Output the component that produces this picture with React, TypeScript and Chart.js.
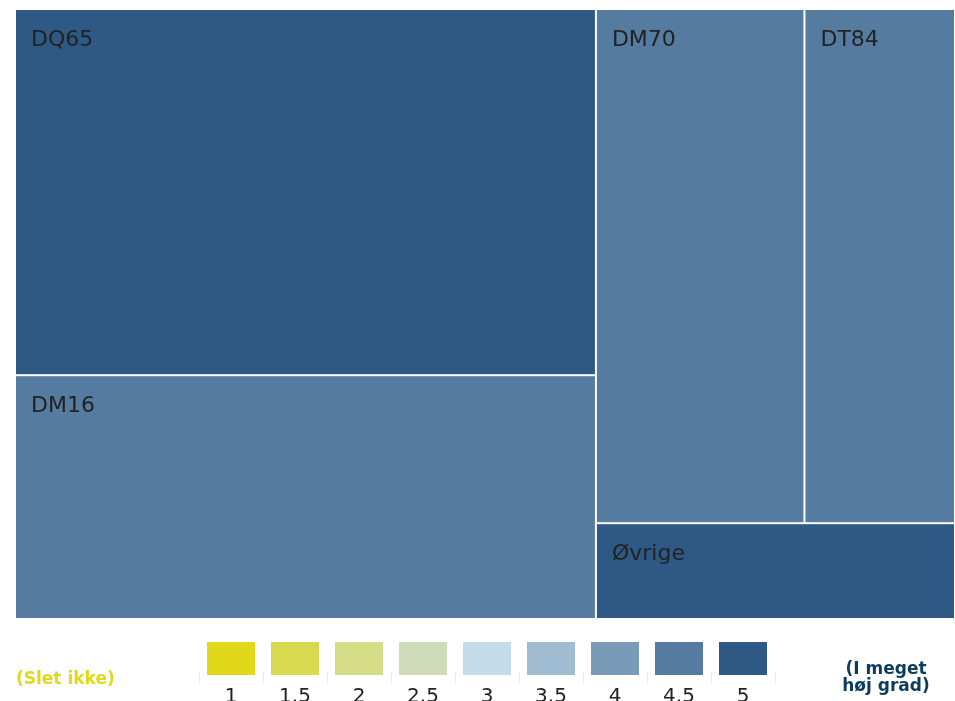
import React, { useEffect, useRef } from "react";
import { Chart, registerables } from "chart.js";

Chart.register(...registerables);

// ---- data ----
const categories = ["DQ65", "DM16", "DM70", "DT84", "Øvrige"];
const sizes = [37.1, 24.7, 18.7, 13.5, 6.0];
const scores = [5, 4.5, 4.5, 4.5, 5];
const legendSteps = [1, 1.5, 2, 2.5, 3, 3.5, 4, 4.5, 5];
const legendLabels = ["1", "1.5", "2", "2.5", "3", "3.5", "4", "4.5", "5"];
const legendColors = [
  "#e2d81a",
  "#d9d94f",
  "#d4dc86",
  "#cfdcba",
  "#c4dcea",
  "#a0bcd3",
  "#7a9bb8",
  "#557ba0",
  "#2e5984",
];
const lowLabel = "(Slet ikke)";
const highLabel = ["(I meget", "høj grad)"];

type R = { i: number; x0: number; y0: number; x1: number; y1: number };

// d3-style squarified treemap
function squarify(values: number[], X0: number, Y0: number, X1: number, Y1: number, ratio: number): R[] {
  const nodes = values.map((v, i) => ({ i, value: v })).sort((a, b) => b.value - a.value);
  const out: R[] = [];
  let x0 = X0, y0 = Y0;
  const x1 = X1, y1 = Y1;
  let value = nodes.reduce((s, n) => s + n.value, 0);
  let i0 = 0, i1 = 0;
  const n = nodes.length;
  while (i0 < n) {
    const dx = x1 - x0, dy = y1 - y0;
    let sumValue = nodes[i1++].value;
    let minValue = sumValue, maxValue = sumValue;
    const alpha = Math.max(dy / dx, dx / dy) / (value * ratio);
    let beta = sumValue * sumValue * alpha;
    let minRatio = Math.max(maxValue / beta, beta / minValue);
    for (; i1 < n; ++i1) {
      const nv = nodes[i1].value;
      sumValue += nv;
      if (nv < minValue) minValue = nv;
      if (nv > maxValue) maxValue = nv;
      beta = sumValue * sumValue * alpha;
      const newRatio = Math.max(maxValue / beta, beta / minValue);
      if (newRatio > minRatio) {
        sumValue -= nv;
        break;
      }
      minRatio = newRatio;
    }
    const row = nodes.slice(i0, i1);
    if (dx < dy) {
      const ny = value ? y0 + (dy * sumValue) / value : y1;
      let x = x0;
      row.forEach((nd) => {
        const w = ((x1 - x0) * nd.value) / sumValue;
        out.push({ i: nd.i, x0: x, y0: y0, x1: x + w, y1: ny });
        x += w;
      });
      y0 = ny;
    } else {
      const nx = value ? x0 + (dx * sumValue) / value : x1;
      let y = y0;
      row.forEach((nd) => {
        const h = ((y1 - y0) * nd.value) / sumValue;
        out.push({ i: nd.i, x0: x0, y0: y, x1: nx, y1: y + h });
        y += h;
      });
      x0 = nx;
    }
    value -= sumValue;
    i0 = i1;
  }
  return out;
}

const FONT = "'DejaVu Sans', Verdana, sans-serif";

const treemapPlugin = {
  id: "treemapDraw",
  afterDatasetsDraw(chart: any) {
    const { ctx, chartArea, scales } = chart;
    const xs = scales.x, ys = scales.y;
    const w = chartArea.right - chartArea.left;
    const h = chartArea.bottom - chartArea.top;
    const rects = squarify(sizes, 0, 0, w, h, 2);
    ctx.save();
    rects.forEach((r) => {
      const px0 = xs.getPixelForValue((r.x0 / w) * 100);
      const px1 = xs.getPixelForValue((r.x1 / w) * 100);
      const py0 = ys.getPixelForValue((r.y0 / h) * 100);
      const py1 = ys.getPixelForValue((r.y1 / h) * 100);
      const ci = legendSteps.indexOf(scores[r.i]);
      ctx.fillStyle = "#ffffff";
      ctx.fillRect(px0, py0, px1 - px0, py1 - py0);
      ctx.fillStyle = legendColors[ci];
      ctx.fillRect(px0 + 1, py0 + 1, px1 - px0 - 2, py1 - py0 - 2);
      ctx.fillStyle = "#222222";
      ctx.font = `22px ${FONT}`;
      ctx.textBaseline = "alphabetic";
      ctx.textAlign = "left";
      ctx.fillText(categories[r.i], px0 + 16, py0 + 37);
    });

    // legend
    const cellStart = 198.5;
    const cellW = 64.1;
    for (let i = 0; i <= legendSteps.length; i++) {
      const lx = Math.round(cellStart + i * cellW) + 0.5;
      ctx.strokeStyle = "#e8e8e8";
      ctx.lineWidth = 1;
      ctx.beginPath();
      ctx.moveTo(lx, 672);
      ctx.lineTo(lx, 683);
      ctx.stroke();
    }
    legendSteps.forEach((s, i) => {
      const bx = Math.round(cellStart + i * cellW + 8);
      ctx.fillStyle = legendColors[i];
      ctx.fillRect(bx, 642, 48, 33);
      ctx.fillStyle = "#222222";
      ctx.font = `20px ${FONT}`;
      ctx.textAlign = "center";
      ctx.textBaseline = "alphabetic";
      ctx.fillText(legendLabels[i], bx + 24, 702);
    });
    ctx.font = `bold 17px ${FONT}`;
    ctx.textAlign = "left";
    ctx.fillStyle = legendColors[0];
    ctx.fillText(lowLabel, 16, 684);
    ctx.textAlign = "center";
    ctx.fillStyle = "#0e3c5e";
    ctx.fillText(highLabel[0], 886, 674);
    ctx.fillText(highLabel[1], 886, 691);
    ctx.restore();
  },
};

export default function App() {
  const ref = useRef<HTMLCanvasElement | null>(null);
  useEffect(() => {
    document.body.style.margin = "0";
    if (!ref.current) return;
    const chart = new Chart(ref.current, {
      type: "scatter",
      data: {
        datasets: [
          {
            label: "size",
            data: [],
            pointRadius: 0,
          },
        ],
      },
      options: {
        animation: false,
        responsive: false,
        devicePixelRatio: 1,
        layout: { padding: { left: 15, top: 9, right: 0, bottom: 82 } },
        scales: {
          x: { type: "linear", min: 0, max: 100, display: false },
          y: { type: "linear", min: 0, max: 100, reverse: true, display: false },
        },
        plugins: {
          legend: { display: false },
          tooltip: { enabled: false },
        },
      },
      plugins: [treemapPlugin],
    });
    return () => chart.destroy();
  }, []);
  return (
    <div style={{ width: 955, height: 701, overflow: "hidden" }}>
      <canvas ref={ref} width={955} height={701} style={{ display: "block" }} />
    </div>
  );
}
